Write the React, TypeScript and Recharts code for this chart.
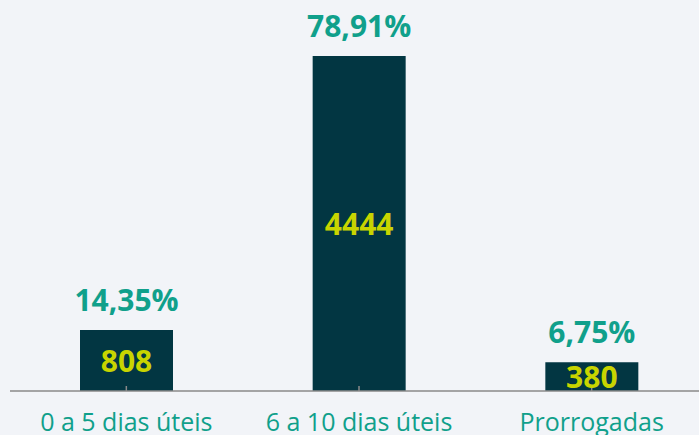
import { Bar, BarChart, LabelList, XAxis, YAxis } from "recharts";

// prazos de resposta
const categories = ["0 a 5 dias úteis", "6 a 10 dias úteis", "Prorrogadas"];
const counts = [808, 4444, 380];
const percents = ["14,35%", "78,91%", "6,75%"];

const data = categories.map((c, i) => ({ name: c, value: counts[i], pct: percents[i] }));

const FONT = "'Open Sans', 'Noto Sans', sans-serif";
const TEAL = "#10a08b";
const BAR = "#023642";
const YELLOW = "#c8d400";
const BG = "#f2f4f8";

function CategoryTick(props: any) {
  const { x, y, payload } = props;
  // y arrives below the axis line by tickSize + tickMargin
  const axisY = y - 8;
  return (
    <g>
      <line x1={x} x2={x} y1={axisY} y2={axisY - 5} stroke="#8a8a8a" strokeWidth={1.5} />
      <text
        x={x}
        y={axisY + 40}
        textAnchor="middle"
        fill={TEAL}
        fontSize={25}
        fontFamily={FONT}
      >
        {payload.value}
      </text>
    </g>
  );
}

function PctLabel(props: any) {
  const { x, y, width, value } = props;
  return (
    <text
      x={x + width / 2}
      y={y - 19}
      textAnchor="middle"
      fill={TEAL}
      fontSize={30}
      fontWeight="bold"
      fontFamily={FONT}
    >
      {value}
    </text>
  );
}

function CountLabel(props: any) {
  const { x, y, width, height, value } = props;
  return (
    <text
      x={x + width / 2}
      y={y + height / 2 + 11}
      textAnchor="middle"
      fill={YELLOW}
      fontSize={30}
      fontWeight="bold"
      fontFamily={FONT}
    >
      {value}
    </text>
  );
}

export default function App() {
  return (
    <div style={{ width: 699, height: 435, overflow: "hidden", background: BG }}>
      <style>{"body{margin:0}"}</style>
      <BarChart
        width={708}
        height={435}
        data={data}
        margin={{ top: 56, right: 0, left: 10, bottom: 0 }}
      >
        <XAxis
          dataKey="name"
          height={44}
          axisLine={{ stroke: "#8a8a8a", strokeWidth: 1.5 }}
          tickLine={false}
          tick={<CategoryTick />}
          interval={0}
        />
        <YAxis hide domain={[0, 4444]} />
        <Bar dataKey="value" fill={BAR} barSize={93} isAnimationActive={false}>
          <LabelList dataKey="pct" content={<PctLabel />} />
          <LabelList dataKey="value" content={<CountLabel />} />
        </Bar>
      </BarChart>
    </div>
  );
}
